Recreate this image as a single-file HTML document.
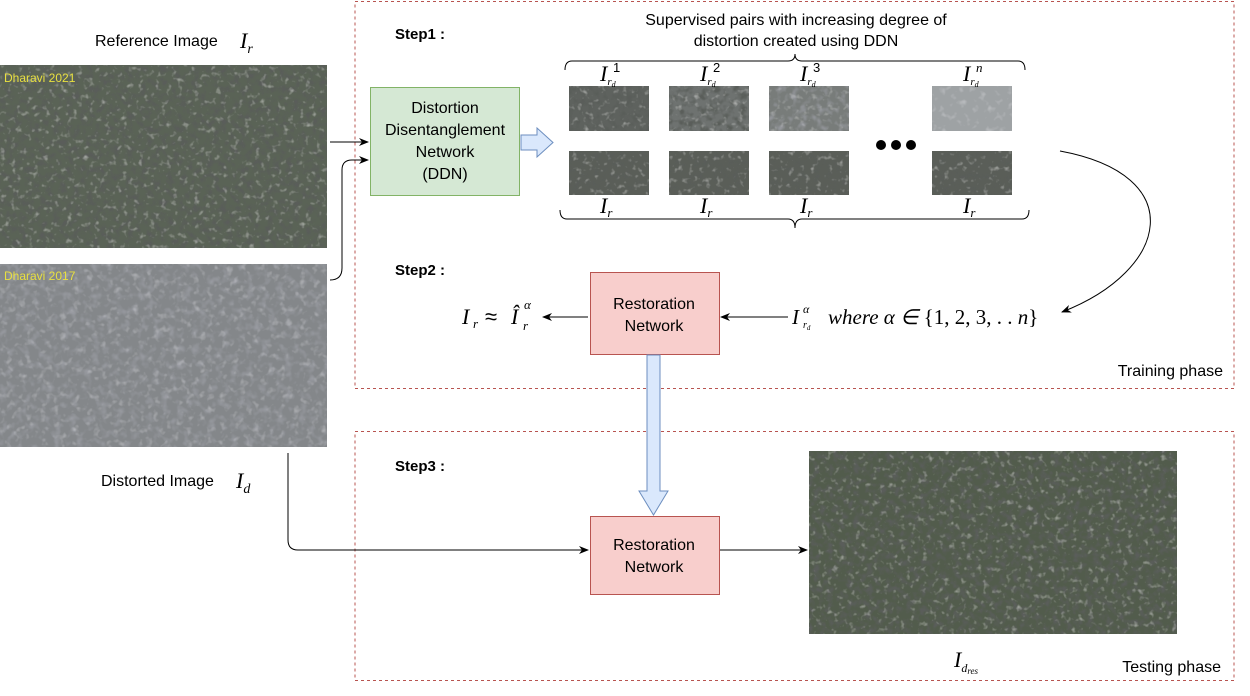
<!DOCTYPE html>
<html><head><meta charset="utf-8"><style>
body{margin:0;background:#fff;}
svg text{font-family:"Liberation Sans",sans-serif;}
.m{font-family:"Liberation Serif",serif;font-style:italic;}
</style></head><body>
<svg width="1250" height="691" viewBox="0 0 1250 691" xmlns="http://www.w3.org/2000/svg">
<defs>
<filter id="dk" x="0" y="0" width="1" height="1"><feTurbulence type="fractalNoise" baseFrequency="0.15" numOctaves="2" seed="3"/><feColorMatrix values="0 0 0 0 0.1  0 0 0 0 0.11  0 0 0 0 0.1  0 0 0 -3 1.7"/><feComposite in2="SourceGraphic" operator="in"/></filter>
<filter id="lt" x="0" y="0" width="1" height="1"><feTurbulence type="fractalNoise" baseFrequency="0.18" numOctaves="2" seed="11"/><feColorMatrix values="0 0 0 0 0.8  0 0 0 0 0.8  0 0 0 0 0.78  0 0 0 2.5 -1.45"/><feComposite in2="SourceGraphic" operator="in"/></filter>
<filter id="ltb" x="0" y="0" width="1" height="1"><feTurbulence type="fractalNoise" baseFrequency="0.15" numOctaves="2" seed="5"/><feColorMatrix values="0 0 0 0 0.72  0 0 0 0 0.72  0 0 0 0 0.75  0 0 0 2.5 -1.4"/><feComposite in2="SourceGraphic" operator="in"/></filter>
<filter id="dkb" x="0" y="0" width="1" height="1"><feTurbulence type="fractalNoise" baseFrequency="0.13" numOctaves="2" seed="9"/><feColorMatrix values="0 0 0 0 0.32  0 0 0 0 0.33  0 0 0 0 0.36  0 0 0 -2.5 1.3"/><feComposite in2="SourceGraphic" operator="in"/></filter>
<marker id="ah" markerWidth="10" markerHeight="8" refX="9" refY="4" orient="auto" markerUnits="userSpaceOnUse"><path d="M0,0 L10,4 L0,8 L3,4 z" fill="#000"/></marker>
</defs>

<rect x="355" y="1.5" width="879" height="387" fill="none" stroke="#b85450" stroke-dasharray="3,3" stroke-width="1"/>
<rect x="355" y="431.5" width="879" height="249" fill="none" stroke="#b85450" stroke-dasharray="3,3" stroke-width="1"/>

<text x="95" y="46" font-size="16">Reference Image</text><text x="240" y="48" class="m" font-size="22">I<tspan font-size="14" dy="5">r</tspan></text>
<rect x="0" y="65" width="327" height="183" fill="#5a6356"/>
<rect x="0" y="65" width="327" height="183" fill="#5a6356" filter="url(#dk)"/>
<rect x="0" y="65" width="327" height="183" fill="#5a6356" filter="url(#lt)" opacity="0.6"/>
<text x="4" y="82" font-size="12" fill="#e8e040">Dharavi 2021</text>
<rect x="0" y="264" width="327" height="183" fill="#84878a"/>
<rect x="0" y="264" width="327" height="183" fill="#84878a" filter="url(#dkb)"/>
<rect x="0" y="264" width="327" height="183" fill="#84878a" filter="url(#ltb)" opacity="0.5"/>
<text x="4" y="280" font-size="12" fill="#e8e040">Dharavi 2017</text>
<text x="101" y="486" font-size="16">Distorted Image</text><text x="236" y="488" class="m" font-size="22">I<tspan font-size="14" dy="5">d</tspan></text>

<line x1="330" y1="142" x2="368" y2="142" stroke="#000" marker-end="url(#ah)"/>
<path d="M330,280 Q342,280 342,268 L342,170 Q342,160 352,160 L368,160" fill="none" stroke="#000" marker-end="url(#ah)"/>
<path d="M288,453 L288,540 Q288,550 298,550 L588,550" fill="none" stroke="#000" marker-end="url(#ah)"/>

<text x="395" y="39" font-size="15" font-weight="bold">Step1 :</text>
<text x="395" y="275" font-size="15" font-weight="bold">Step2 :</text>
<text x="395" y="471" font-size="15" font-weight="bold">Step3 :</text>

<rect x="370.5" y="87.5" width="149" height="108" fill="#d5e8d4" stroke="#82b366"/>
<text x="445" y="113" font-size="16" text-anchor="middle">Distortion</text>
<text x="445" y="135" font-size="16" text-anchor="middle">Disentanglement</text>
<text x="445" y="157" font-size="16" text-anchor="middle">Network</text>
<text x="445" y="179" font-size="16" text-anchor="middle">(DDN)</text>
<path d="M521,135 L537,135 L537,128 L553,142.5 L537,157 L537,150 L521,150 z" fill="#dae8fc" stroke="#6c8ebf"/>

<text x="796" y="25" font-size="16" text-anchor="middle">Supervised pairs with increasing degree of</text>
<text x="796" y="46" font-size="16" text-anchor="middle">distortion created using DDN</text>
<path d="M565,70 Q565,61 572,61 L788,61 Q795,61 795,54 Q795,61 802,61 L1018,61 Q1025,61 1025,70" fill="none" stroke="#000"/>
<path d="M560,210 Q560,219 567,219 L788,219 Q795,219 795,228 Q795,219 802,219 L1022,219 Q1029,219 1029,210" fill="none" stroke="#000"/>

<g>
<rect x="569" y="86" width="80" height="45" fill="#5e625e"/><rect x="569" y="86" width="80" height="45" fill="#5e625e" filter="url(#dk)"/><rect x="569" y="86" width="80" height="45" fill="#5e625e" filter="url(#lt)" opacity="0.6"/>
<rect x="669" y="86" width="80" height="45" fill="#6e7270"/><rect x="669" y="86" width="80" height="45" fill="#6e7270" filter="url(#dk)"/><rect x="669" y="86" width="80" height="45" fill="#6e7270" filter="url(#lt)" opacity="0.6"/>
<rect x="769" y="86" width="80" height="45" fill="#787c7a"/><rect x="769" y="86" width="80" height="45" fill="#787c7a" filter="url(#dkb)"/><rect x="769" y="86" width="80" height="45" fill="#787c7a" filter="url(#lt)" opacity="0.5"/>
<rect x="932" y="86" width="80" height="45" fill="#9ea2a4"/><rect x="932" y="86" width="80" height="45" fill="#9ea2a4" filter="url(#ltb)" opacity="0.5"/>
<rect x="569" y="151" width="80" height="44" fill="#5a5e58"/><rect x="569" y="151" width="80" height="44" fill="#5a5e58" filter="url(#dk)"/><rect x="569" y="151" width="80" height="44" fill="#5a5e58" filter="url(#lt)" opacity="0.6"/>
<rect x="669" y="151" width="80" height="44" fill="#5a5e58"/><rect x="669" y="151" width="80" height="44" fill="#5a5e58" filter="url(#dk)"/><rect x="669" y="151" width="80" height="44" fill="#5a5e58" filter="url(#lt)" opacity="0.6"/>
<rect x="769" y="151" width="80" height="44" fill="#5a5e58"/><rect x="769" y="151" width="80" height="44" fill="#5a5e58" filter="url(#dk)"/><rect x="769" y="151" width="80" height="44" fill="#5a5e58" filter="url(#lt)" opacity="0.6"/>
<rect x="932" y="151" width="80" height="44" fill="#5a5e58"/><rect x="932" y="151" width="80" height="44" fill="#5a5e58" filter="url(#dk)"/><rect x="932" y="151" width="80" height="44" fill="#5a5e58" filter="url(#lt)" opacity="0.6"/>
</g>
<g font-size="22">
<text x="600" y="81" class="m">I<tspan font-size="11" dy="4">r</tspan><tspan font-size="8" dy="2">d</tspan></text><text x="613" y="72" font-family="Liberation Serif" font-size="13">1</text>
<text x="700" y="81" class="m">I<tspan font-size="11" dy="4">r</tspan><tspan font-size="8" dy="2">d</tspan></text><text x="713" y="72" font-family="Liberation Serif" font-size="13">2</text>
<text x="800" y="81" class="m">I<tspan font-size="11" dy="4">r</tspan><tspan font-size="8" dy="2">d</tspan></text><text x="813" y="72" font-family="Liberation Serif" font-size="13">3</text>
<text x="963" y="81" class="m">I<tspan font-size="11" dy="4">r</tspan><tspan font-size="8" dy="2">d</tspan></text><text x="976" y="72" class="m" font-size="13">n</text>
<text x="600" y="213" class="m">I<tspan font-size="13" dy="4">r</tspan></text>
<text x="700" y="213" class="m">I<tspan font-size="13" dy="4">r</tspan></text>
<text x="800" y="213" class="m">I<tspan font-size="13" dy="4">r</tspan></text>
<text x="963" y="213" class="m">I<tspan font-size="13" dy="4">r</tspan></text>
</g>
<circle cx="881" cy="145" r="5"/><circle cx="896" cy="145" r="5"/><circle cx="911" cy="145" r="5"/>

<path d="M1060,151 C1190,175 1170,270 1062,312" fill="none" stroke="#000" marker-end="url(#ah)"/>

<rect x="590.5" y="272.5" width="129" height="82" fill="#f8cecc" stroke="#b85450"/>
<text x="654" y="309" font-size="16" text-anchor="middle">Restoration</text>
<text x="654" y="331" font-size="16" text-anchor="middle">Network</text>
<line x1="588" y1="317" x2="543" y2="317" stroke="#000" marker-end="url(#ah)"/>
<line x1="788" y1="317" x2="721" y2="317" stroke="#000" marker-end="url(#ah)"/>
<text x="462" y="324" class="m" font-size="22">I</text><text x="473" y="328" class="m" font-size="13">r</text>
<text x="485" y="324" font-family="Liberation Serif" font-size="22">≈</text>
<text x="511" y="324" class="m" font-size="22">Î</text>
<text x="524" y="309" class="m" font-size="13">α</text><text x="523" y="330" class="m" font-size="13">r</text>
<text x="792" y="324" class="m" font-size="21">I</text>
<text x="803" y="313" class="m" font-size="12">α</text><text x="803" y="328" class="m" font-size="10">r<tspan font-size="7" dy="2">d</tspan></text>
<text x="828" y="324" class="m" font-size="21">where α ∈ <tspan font-style="normal">{1, 2, 3, . . </tspan>n<tspan font-style="normal">}</tspan></text>
<text x="1223" y="376" font-size="16" text-anchor="end">Training phase</text>

<path d="M647,355 L660,355 L660,491 L668,491 L653.5,515 L639,491 L647,491 z" fill="#dae8fc" stroke="#6c8ebf"/>

<rect x="590.5" y="516.5" width="129" height="78" fill="#f8cecc" stroke="#b85450"/>
<text x="654" y="550" font-size="16" text-anchor="middle">Restoration</text>
<text x="654" y="572" font-size="16" text-anchor="middle">Network</text>
<line x1="720" y1="550" x2="807" y2="550" stroke="#000" marker-end="url(#ah)"/>
<rect x="809" y="451" width="368" height="183" fill="#525c4c"/>
<rect x="809" y="451" width="368" height="183" fill="#525c4c" filter="url(#dk)"/>
<rect x="809" y="451" width="368" height="183" fill="#525c4c" filter="url(#lt)" opacity="0.6"/>
<text x="954" y="667" class="m" font-size="22">I<tspan font-size="12" dy="5">d</tspan><tspan font-size="9" dy="2">res</tspan></text>
<text x="1221" y="672" font-size="16" text-anchor="end">Testing phase</text>
</svg>
</body></html>
